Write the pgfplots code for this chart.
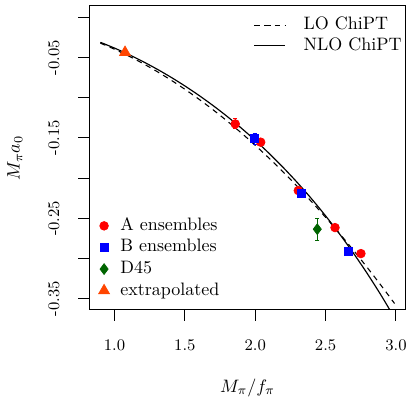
\documentclass[border=0pt]{standalone}
\usepackage{pgfplots}
\pgfplotsset{compat=1.18}
\definecolor{dgreen}{RGB}{0,100,0}
\definecolor{ored}{RGB}{255,69,0}
\begin{document}
\begin{tikzpicture}
\pgfplotsset{
  common/.style={
    scale only axis, width=175.8pt, height=168.9pt,
    xmin=0.821, xmax=3.069, ymin=-0.3637, ymax=0.014,
  },
}
\begin{axis}[common, name=a,
  axis line style={line width=0.55pt},
  tick align=outside, tick style={black, line width=0.55pt},
  major tick length=6pt,
  xtick pos=bottom, ytick pos=left,
  xtick={1,1.5,2,2.5,3},
  xticklabels={1.0,1.5,2.0,2.5,3.0},
  ytick={-0.35,-0.30,-0.25,-0.20,-0.15,-0.10,-0.05,0},
  yticklabels={-0.35,{},-0.25,{},-0.15,{},-0.05,{}},
  xticklabel style={font=\small, anchor=north},
  yticklabel style={font=\small, rotate=90, anchor=south},
  xticklabel shift=7pt,
  yticklabel shift=7pt,
  xlabel={$M_\pi/f_\pi$},
  ylabel={$M_\pi a_0$},
  xlabel style={at={(axis description cs:0.5,-0.256)}, anchor=center},
  ylabel style={at={(axis description cs:-0.235,0.5)}, anchor=center},
  legend style={draw=none, fill=none, at={(rel axis cs:1,1)}, anchor=north east,
    xshift=2pt, yshift=-3pt,
    nodes={inner sep=1pt, text height=7pt, text depth=2pt},
    row sep=0.5pt,
    /tikz/every odd column/.append style={column sep=9pt}},
  legend cell align=left,
]
\addplot[black, line width=0.6pt, dash pattern=on 3pt off 2.6pt, smooth] coordinates {
(0.9,-0.032229) (1.0,-0.039789) (1.1,-0.048144) (1.2,-0.057296) (1.3,-0.067243)
(1.4,-0.077986) (1.5,-0.089525) (1.6,-0.101859) (1.7,-0.114989) (1.8,-0.128915)
(1.9,-0.143637) (2.0,-0.159155) (2.1,-0.175468) (2.2,-0.192577) (2.3,-0.210482)
(2.4,-0.229183) (2.5,-0.248679) (2.6,-0.268972) (2.7,-0.290060) (2.8,-0.311943)
(2.9,-0.334623) (2.99,-0.355715)
};
\addlegendentry{LO ChiPT}
\addplot[black, line width=0.65pt, smooth] coordinates {
(0.9,-0.031185) (1.0,-0.038357) (1.1,-0.046259) (1.2,-0.054898) (1.3,-0.064286)
(1.4,-0.074439) (1.5,-0.085378) (1.6,-0.097130) (1.7,-0.109727) (1.8,-0.123209)
(1.9,-0.137618) (2.0,-0.153005) (2.1,-0.169427) (2.2,-0.186947) (2.3,-0.205636)
(2.4,-0.225571) (2.5,-0.246837) (2.6,-0.269525) (2.7,-0.293734) (2.8,-0.319571)
(2.9,-0.347151) (3.0,-0.376595)
};
\addlegendentry{NLO ChiPT}
\end{axis}
\begin{axis}[common, hide axis,
  legend style={draw=none, fill=none, at={(rel axis cs:0,0)}, anchor=south west,
    xshift=2pt, yshift=3pt,
    nodes={inner sep=1pt, text height=7pt, text depth=2pt},
    row sep=1pt,
    /tikz/every odd column/.append style={column sep=5pt}},
  legend cell align=left,
]
\addplot[only marks, mark=*, red, mark size=2.4pt,
  error bars/.cd, y dir=both, y explicit, error mark options={rotate=90, mark size=1.1pt, line width=0.5pt}, error bar style={line width=0.5pt}]
  coordinates {
  (1.858,-0.1326) +- (0,0.0062)
  (2.039,-0.1553) +- (0,0.003)
  (2.306,-0.2154) +- (0,0.003)
  (2.567,-0.2614) +- (0,0.002)
  (2.751,-0.2937) +- (0,0.002)
};
\addlegendentry{A ensembles}
\addplot[only marks, mark=square*, blue, mark size=2.2pt,
  error bars/.cd, y dir=both, y explicit, error mark options={rotate=90, mark size=1.1pt, line width=0.5pt}, error bar style={line width=0.5pt}]
  coordinates {
  (1.996,-0.1508) +- (0,0.0068)
  (2.330,-0.2187) +- (0,0.004)
  (2.661,-0.2907) +- (0,0.003)
};
\addlegendentry{B ensembles}
\addplot[only marks, mark=diamond*, dgreen, mark size=3pt,
  error bars/.cd, y dir=both, y explicit, error mark options={rotate=90, mark size=1.1pt, line width=0.5pt}, error bar style={line width=0.5pt}]
  coordinates {
  (2.441,-0.2634) +- (0,0.0135)
};
\addlegendentry{D45}
\addplot[only marks, mark=triangle*, ored, mark size=3.5pt]
  coordinates {
  (1.075,-0.0437)
};
\addlegendentry{extrapolated}
\end{axis}
\pgfresetboundingbox
\path[use as bounding box] ([shift={(-49.6pt,-48.3pt)}]a.south west) rectangle ([shift={(2.4pt,3.3pt)}]a.north east);
\end{tikzpicture}
\end{document}
